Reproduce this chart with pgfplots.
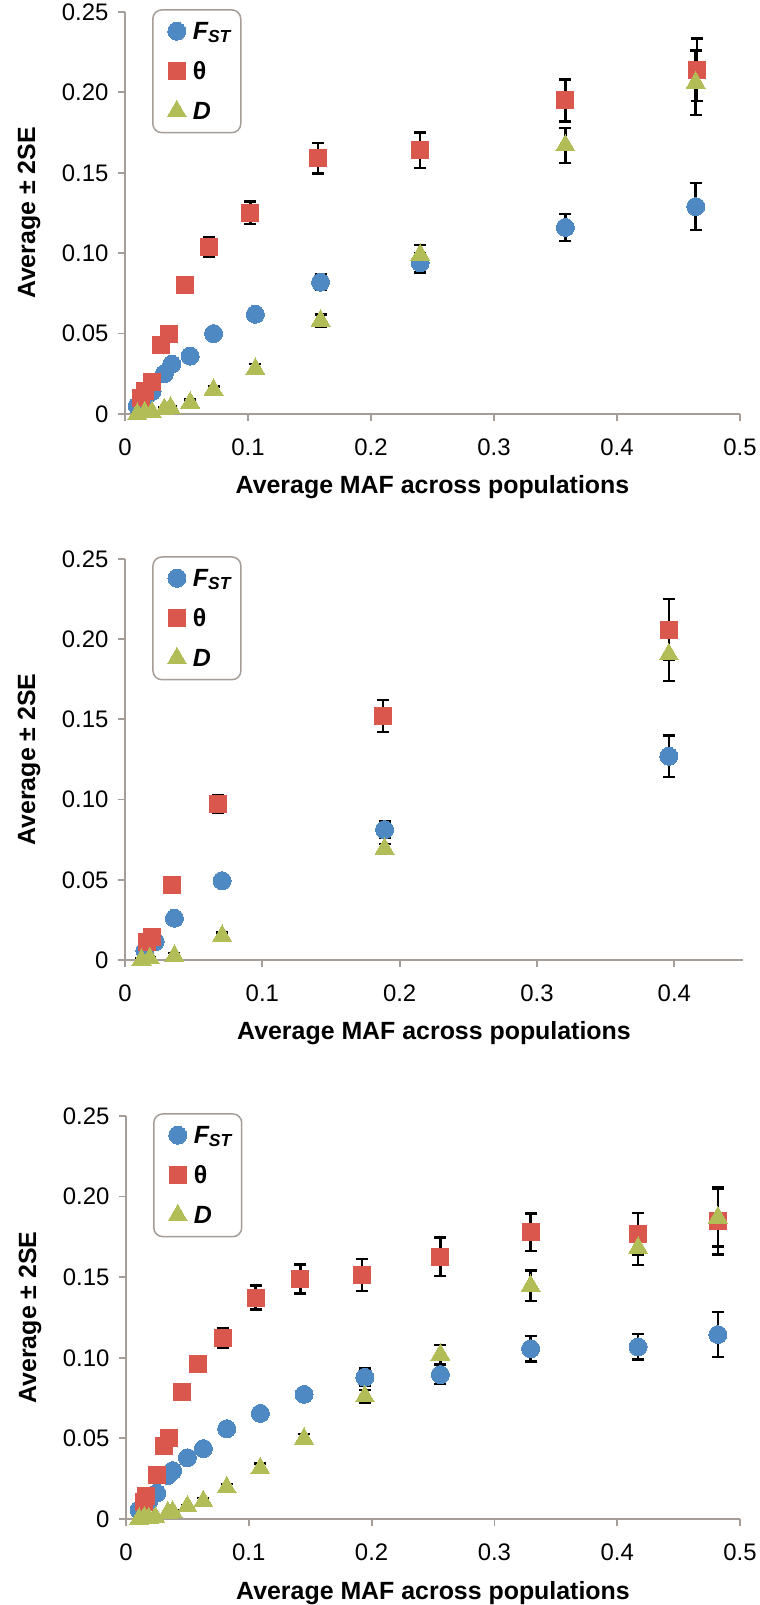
\documentclass[border=0pt]{standalone}
\usepackage{fontspec}
\setmainfont{Liberation Sans}
\usepackage{pgfplots}
\usepackage{pgfplotstable}
\pgfplotsset{compat=1.18}
\definecolor{cF}{RGB}{79,137,196}
\definecolor{cT}{RGB}{217,87,76}
\definecolor{cD}{RGB}{178,189,88}
\definecolor{axc}{RGB}{165,158,152}

% ---------- Panel 1 ----------
\pgfplotstableread{
x y e
0.010 0.005 0.001
0.016 0.010 0.001
0.022 0.014 0.001
0.032 0.025 0.002
0.038 0.031 0.002
0.053 0.036 0.002
0.072 0.050 0.003
0.106 0.062 0.003
0.159 0.082 0.005
0.240 0.094 0.006
0.358 0.116 0.0085
0.464 0.129 0.0145
}\FoneF
\pgfplotstableread{
x y e
0.013 0.010 0.001
0.016 0.014 0.001
0.022 0.020 0.002
0.0295 0.043 0.002
0.036 0.050 0.002
0.049 0.080 0.003
0.0685 0.104 0.006
0.102 0.125 0.007
0.157 0.159 0.0095
0.240 0.164 0.011
0.358 0.195 0.013
0.465 0.214 0.0195
}\FoneT
\pgfplotstableread{
x y e
0.010 0.000 0.001
0.016 0.001 0.001
0.022 0.001 0.001
0.032 0.003 0.001
0.037 0.004 0.001
0.053 0.007 0.002
0.072 0.015 0.002
0.106 0.028 0.003
0.159 0.058 0.004
0.240 0.099 0.006
0.358 0.167 0.011
0.464 0.206 0.020
}\FoneD

% ---------- Panel 2 ----------
\pgfplotstableread{
x y e
0.0145 0.0058 0.001
0.022 0.0114 0.001
0.036 0.026 0.002
0.0707 0.0494 0.002
0.189 0.0813 0.005
0.396 0.127 0.013
}\FtwoF
\pgfplotstableread{
x y e
0.016 0.0114 0.001
0.0196 0.0144 0.001
0.0345 0.047 0.002
0.068 0.097 0.0055
0.188 0.152 0.010
0.396 0.206 0.019
}\FtwoT
\pgfplotstableread{
x y e
0.012 0.000 0.001
0.018 0.001 0.001
0.036 0.0025 0.002
0.0707 0.015 0.002
0.189 0.0694 0.003
0.396 0.1905 0.0165
}\FtwoD

% ---------- Panel 3 ----------
\pgfplotstableread{
x y e
0.0106 0.0056 0.001
0.0185 0.011 0.001
0.025 0.016 0.001
0.034 0.027 0.002
0.038 0.030 0.002
0.050 0.038 0.002
0.063 0.0437 0.002
0.082 0.056 0.002
0.1094 0.0655 0.003
0.145 0.0773 0.003
0.1945 0.0879 0.0055
0.256 0.0896 0.006
0.3295 0.1056 0.008
0.417 0.1068 0.008
0.482 0.1144 0.014
}\FthreeF
\pgfplotstableread{
x y e
0.0146 0.0105 0.001
0.0165 0.0140 0.001
0.025 0.0276 0.002
0.031 0.045 0.002
0.035 0.0504 0.002
0.046 0.0788 0.003
0.059 0.096 0.003
0.0787 0.1122 0.006
0.1055 0.1374 0.0075
0.142 0.149 0.009
0.192 0.1514 0.010
0.256 0.1626 0.012
0.3295 0.1779 0.0116
0.417 0.1768 0.013
0.482 0.185 0.021
}\FthreeT
\pgfplotstableread{
x y e
0.0106 0.000 0.001
0.015 0.001 0.001
0.0185 0.0005 0.001
0.024 0.001 0.001
0.034 0.004 0.001
0.038 0.0045 0.001
0.050 0.0078 0.001
0.063 0.011 0.002
0.082 0.0196 0.002
0.1094 0.0314 0.003
0.145 0.0498 0.003
0.1945 0.076 0.004
0.256 0.1019 0.006
0.3295 0.1446 0.0095
0.417 0.1682 0.0105
0.482 0.187 0.018
}\FthreeD

\pgfplotsset{
 panel/.style={
  scale only axis,
  xmin=0, ymin=0, ymax=0.25,
  axis lines*=left,
  axis line style={axc, line width=1.8bp},
  every tick/.style={axc, line width=1.8bp},
  major tick length=7bp,
  tick align=outside,
  ytick={0,0.05,0.10,0.15,0.20,0.25},
  yticklabels={0,0.05,0.10,0.15,0.20,0.25},
  /pgf/number format/assume math mode=true,
  tick label style={font=\fontsize{24}{28}\selectfont},
  xticklabel style={yshift=-14bp},
  yticklabel style={xshift=-6bp},
  xlabel={Average MAF across populations},
  ylabel={Average ± 2SE},
  label style={font=\fontsize{25}{29}\selectfont\bfseries},
  ylabel style={at={(axis description cs:0,0.5)}, anchor=center, yshift=96bp},
  xlabel style={at={(axis description cs:0.5,0)}, anchor=base, yshift=-80bp},
  clip=false,
  legend style={at={(0.044,1.007)}, anchor=north west, draw=axc, line width=1.5bp,
    rounded corners=9bp, font=\fontsize{25}{29}\selectfont\bfseries,
    row sep=17bp, inner xsep=8bp, inner ysep=10bp, cells={anchor=west}},
  legend image code/.code={\path[draw=none,fill=none] (0bp,-10bp) (30bp,10bp); \draw[#1] plot coordinates {(16bp,0bp)};},
 },
 errs/.style={error bars/.cd, y dir=both, y explicit,
   error bar style={line width=2.5bp, black},
   error mark options={rotate=90, mark size=6bp, line width=2.5bp, black}},
 sF/.style={only marks, mark=*, mark size=9bp, mark options={fill=cF, draw=cF, line width=0pt}, errs},
 sT/.style={only marks, mark=square*, mark size=8.5bp, mark options={fill=cT, draw=cT, line width=0pt}, errs},
 sD/.style={only marks, mark=triangle*, mark size=11bp, mark options={fill=cD, draw=cD, line width=0pt}, errs},
}

\begin{document}
\begin{tikzpicture}
\useasboundingbox (0,0) rectangle (760bp,1605bp);

% Panel 1
\begin{axis}[panel, at={(125bp,1191bp)}, anchor=south west,
  width=615bp, height=402bp, xmax=0.5,
  xtick={0,0.1,0.2,0.3,0.4,0.5}, xticklabels={0,0.1,0.2,0.3,0.4,0.5}]
\addplot[sF] table[x=x,y=y,y error=e] {\FoneF};
\addlegendentry{\textit{F\textsubscript{ST}}}
\addplot[sT] table[x=x,y=y,y error=e] {\FoneT};
\addlegendentry{θ}
\addplot[sD] table[x=x,y=y,y error=e] {\FoneD};
\addlegendentry{\textit{D}}
\end{axis}

% Panel 2
\begin{axis}[panel, at={(125bp,645bp)}, anchor=south west,
  width=618bp, height=401bp, xmax=0.45,
  xtick={0,0.1,0.2,0.3,0.4}, xticklabels={0,0.1,0.2,0.3,0.4}]
\addplot[sF] table[x=x,y=y,y error=e] {\FtwoF};
\addlegendentry{\textit{F\textsubscript{ST}}}
\addplot[sT] table[x=x,y=y,y error=e] {\FtwoT};
\addlegendentry{θ}
\addplot[sD] table[x=x,y=y,y error=e] {\FtwoD};
\addlegendentry{\textit{D}}
\end{axis}

% Panel 3
\begin{axis}[panel, at={(126bp,86bp)}, anchor=south west,
  width=614bp, height=403bp, xmax=0.5,
  xtick={0,0.1,0.2,0.3,0.4,0.5}, xticklabels={0,0.1,0.2,0.3,0.4,0.5}]
\addplot[sF] table[x=x,y=y,y error=e] {\FthreeF};
\addlegendentry{\textit{F\textsubscript{ST}}}
\addplot[sT] table[x=x,y=y,y error=e] {\FthreeT};
\addlegendentry{θ}
\addplot[sD] table[x=x,y=y,y error=e] {\FthreeD};
\addlegendentry{\textit{D}}
\end{axis}
\end{tikzpicture}
\end{document}
